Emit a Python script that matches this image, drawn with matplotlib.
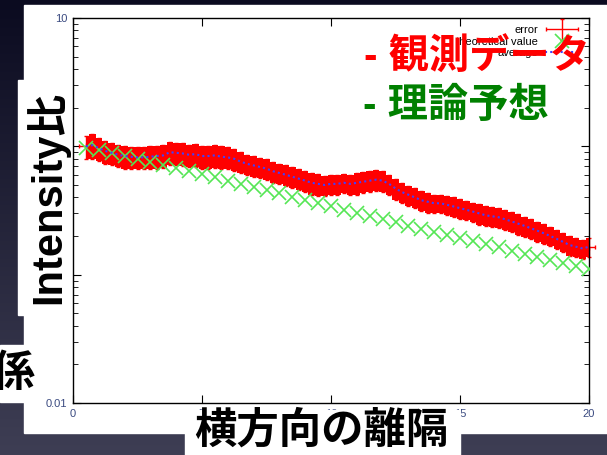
import numpy as np
import matplotlib.pyplot as plt
from matplotlib.patches import Rectangle
from matplotlib.ticker import NullLocator
from matplotlib.legend_handler import HandlerErrorbar
from matplotlib.container import ErrorbarContainer

plt.rcParams['font.family'] = ['Liberation Sans', 'Noto Sans CJK JP']

# measured ratio, sampled every 0.25
dist = np.arange(0.5, 20.01, 0.25)
average = [1.00, 1.02, 0.97, 0.92, 0.89, 0.86, 0.84, 0.83,
           0.82, 0.82, 0.83, 0.84, 0.85, 0.90, 0.89, 0.88,
           0.86, 0.87, 0.84, 0.84, 0.85, 0.83, 0.82, 0.80,
           0.76, 0.73, 0.71, 0.69, 0.67, 0.64, 0.62, 0.60,
           0.58, 0.56, 0.54, 0.52, 0.51, 0.50, 0.51, 0.51,
           0.52, 0.51, 0.52, 0.53, 0.54, 0.55, 0.54, 0.51,
           0.47, 0.44, 0.42, 0.40, 0.38, 0.37, 0.36, 0.36,
           0.35, 0.34, 0.33, 0.32, 0.31, 0.30, 0.29, 0.285,
           0.28, 0.27, 0.26, 0.25, 0.24, 0.23, 0.22, 0.21,
           0.20, 0.19, 0.18, 0.17, 0.165, 0.16, 0.165]
error = [0.20, 0.22, 0.20, 0.19, 0.18, 0.17, 0.17, 0.16,
         0.16, 0.16, 0.17, 0.17, 0.17, 0.19, 0.18, 0.18,
         0.17, 0.18, 0.17, 0.17, 0.17, 0.17, 0.16, 0.16,
         0.14, 0.13, 0.13, 0.12, 0.12, 0.12, 0.11, 0.11,
         0.11, 0.10, 0.10, 0.10, 0.10, 0.09, 0.09, 0.09,
         0.09, 0.09, 0.10, 0.10, 0.10, 0.10, 0.10, 0.09,
         0.085, 0.08, 0.075, 0.07, 0.065, 0.065, 0.06, 0.06,
         0.06, 0.06, 0.06, 0.055, 0.055, 0.055, 0.05, 0.05,
         0.05, 0.048, 0.046, 0.045, 0.042, 0.04, 0.039, 0.037,
         0.034, 0.032, 0.03, 0.029, 0.028, 0.027, 0.028]

# theoretical ratio, every 0.5
dist_theory = np.arange(0.5, 20.01, 0.5)
theory = [0.97, 0.93, 0.88, 0.84, 0.79, 0.75, 0.71, 0.68,
          0.64, 0.61, 0.58, 0.54, 0.51, 0.48, 0.455, 0.43,
          0.405, 0.38, 0.36, 0.34, 0.32, 0.30, 0.285, 0.27,
          0.255, 0.24, 0.227, 0.215, 0.203, 0.192, 0.182, 0.172,
          0.163, 0.154, 0.145, 0.137, 0.130, 0.123, 0.116, 0.110]

xticks = [0, 5, 10, 15, 20]
yticks = [0.01, 0.1, 1, 10]
ylabels = ['0.01', '0.1', '1', '10']

W, H = 607, 455
fig = plt.figure(figsize=(W / 100, H / 100), dpi=100)

# dark slide background + white plot image
bg = fig.add_axes([0, 0, 1, 1], zorder=0)
bg.axis('off')
t = np.linspace(0, 1, 256)[:, None, None]
c_top = np.array([0x0b, 0x0b, 0x20]) / 255
c_bot = np.array([0x3e, 0x3e, 0x54]) / 255
bg.imshow(c_top + (c_bot - c_top) * t, extent=[0, W, H, 0], aspect='auto')
bg.set_xlim(0, W)
bg.set_ylim(H, 0)
bg.add_patch(Rectangle((24, 5), W - 24, 428, color='white'))

ax = fig.add_axes([73 / W, (H - 403) / H, 516 / W, 385 / H], zorder=1)
avg = np.array(average)
err = np.array(error)
ax.fill_between(dist, avg - err, avg + err, step='mid', color='red', lw=0, zorder=2)
eb = ax.errorbar(dist, avg, yerr=err, xerr=0.25, fmt='none', ecolor='red',
                 elinewidth=1, capsize=1.5, zorder=2)
for coll in eb.lines[2]:
    coll.set_clip_on(False)
for cap in eb.lines[1]:
    cap.set_clip_on(False)
th, = ax.plot(dist_theory, theory, 'x', color='#55e655', ms=10, mew=1.2, zorder=3)
av, = ax.plot(dist, avg, ls=(0, (1, 1.5)), color='#4040ff', lw=1.5, zorder=4)

ax.set_yscale('log')
ax.set_ylim(0.01, 10)
ax.set_xlim(0, 20)
ax.set_xticks(xticks)
ax.set_xticklabels([str(v) for v in xticks])
ax.set_yticks(yticks)
ax.set_yticklabels(ylabels)
ax.xaxis.set_minor_locator(NullLocator())
ax.tick_params(which='both', direction='in', top=True, right=True,
               labelsize=8, labelcolor='#3a4a80')
ax.tick_params(which='major', length=6, pad=4)
ax.tick_params(which='minor', length=3.5)
for s in ax.spines.values():
    s.set_linewidth(1)

ax.legend([eb, th, av], ['error', 'theoretical value', 'average'],
          loc='upper right', bbox_to_anchor=(579 / W, (H - 25) / H),
          bbox_transform=fig.transFigure, frameon=False, markerfirst=False,
          fontsize=8, handlelength=3.1, handletextpad=0.6, labelspacing=0.14,
          borderpad=0, borderaxespad=0,
          handler_map={ErrorbarContainer: HandlerErrorbar(xerr_size=1.45, yerr_size=0.95)})

# slide labels on top
ov = fig.add_axes([0, 0, 1, 1], zorder=5)
ov.axis('off')
ov.patch.set_alpha(0)
ov.set_xlim(0, W)
ov.set_ylim(H, 0)
for (x0, y0, x1, y1) in [(18, 80, 70, 315), (0, 345, 24, 402), (185, 410, 460, 455)]:
    ov.add_patch(Rectangle((x0, y0), x1 - x0, y1 - y0, color='white'))

ov.text(47, 198, 'Intensity比', rotation=90, ha='center', va='center',
        fontsize=30, weight='bold', color='black')
ov.text(321, 431, '横方向の離隔', ha='center', va='center',
        fontsize=30.5, weight='bold', color='black')
ov.text(35, 375, '係', ha='right', va='center', fontsize=31, weight='bold', color='black')
ov.text(364, 57, '- 観測データ', ha='left', va='center', fontsize=29,
        weight='bold', color='#ff0000')
ov.text(363, 106, '- 理論予想', ha='left', va='center', fontsize=29,
        weight='bold', color='#008000')

fig.savefig('out.png', dpi=100)
